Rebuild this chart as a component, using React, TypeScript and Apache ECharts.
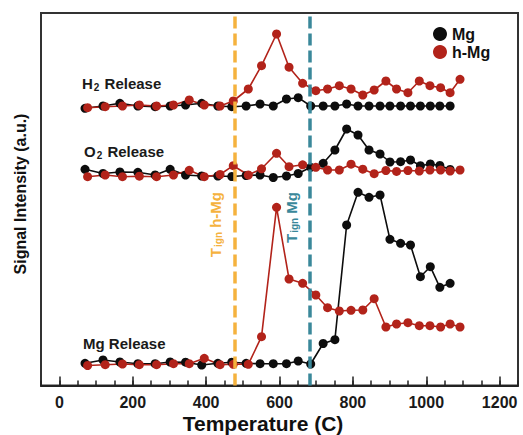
import React, { useEffect, useRef } from "react";
import * as echarts from "echarts";

// Temperatures (°C) at which each sample was measured
const tempMg = [70, 119, 165, 214, 261, 302, 344, 388, 432, 470, 509, 547, 583, 619, 651, 685, 719, 751, 783, 814, 844, 874, 901, 930, 957, 984, 1011, 1037, 1065];
const tempHMg = [77, 125, 172, 218, 265, 311, 354, 395, 438, 474, 515, 551, 592, 626, 663, 699, 731, 763, 795, 827, 858, 890, 919, 950, 981, 1010, 1039, 1065, 1092];

// Raw signals (a.u.), relative to each trace's own baseline
const h2Mg = [-2.3, 0, 2.7, 0, -0.7, 0, 1, 2.7, 0, -0.7, 0, 2, 0, 7, 8.3, 0, 0, 0, 2, 0, 0, 0, 0, 0, 0, 0, 0, 0, 0];
const h2HMg = [-1.7, -0.7, 0, 1, 0, 1, 6, 1, 0, 5, 17, 40.3, 72, 38.8, 22.7, 15.3, 17, 20.3, 17, 11, 16, 25, 17, 13.3, 25, 20.3, 18.3, 13.3, 26.7];
const o2Mg = [6.7, 2.5, 4, 3.7, 1, 6.7, 1, 0, 0, -0.5, 0.5, 1, -1.5, 0, 2.5, 8.7, 12.7, 26, 47, 41, 26, 22, 14, 14.3, 16, 10.3, 12, 10.5, 6.5];
const o2HMg = [-0.7, 1, -0.7, -0.2, -0.7, 1, 5.7, -0.7, 1.5, 10.3, 1, 7.2, 22.7, 9.3, 11.2, 8.7, 6, 6, 11.8, 6.8, 2.3, 5.5, 4.6, 5.5, 5, 6, 6, 5, 6];
const mgMg = [0.7, 4, 2, 0.3, 0.3, 2, 1.8, -1, 0.7, 1.8, 0.7, 0.3, 0.3, 0.3, 3, 0, 20.5, 24.3, 139, 171.7, 166.7, 169, 124.7, 120.7, 119, 87.3, 97.3, 76.7, 80.7];
const mgHMg = [-1.5, -0.7, 0, -0.7, -0.7, 0.3, 0.3, 5.7, -0.7, -0.3, -0.3, 27.3, 156.7, 85, 80.7, 69, 56.3, 53, 53.7, 54, 65.3, 37, 40, 41.3, 38.3, 38.3, 37, 40, 37];

// Vertical offsets of the stacked traces
const offsetH2 = 279.5;
const offsetO2 = 209.5;
const offsetMg = 21.5;

// Ignition temperatures (°C)
const tIgnHMg = 478;
const tIgnMg = 682;

const xTickLabels = [0, 200, 400, 600, 800, 1000, 1200];

const BLACK = "#0d0d0d";
const RED = "#b2231a";
const ORANGE = "#f5b23e";
const TEAL = "#3a889a";
const FONT = "'Liberation Sans', Arial, sans-serif";

function toPairs(t: number[], v: number[], off: number) {
  return t.map((x, i) => [x, v[i] + off]);
}

function lineSeries(name: string, color: string, data: number[][], extra: any = {}) {
  return {
    name,
    type: "line",
    data,
    symbol: "circle",
    symbolSize: 9,
    showSymbol: true,
    lineStyle: { color, width: 1.6 },
    itemStyle: { color },
    emphasis: { disabled: true },
    ...extra,
  };
}

export default function App() {
  const ref = useRef<HTMLDivElement>(null);
  useEffect(() => {
    if (!ref.current) return;
    const chart = echarts.init(ref.current, undefined, { renderer: "svg" });
    const option: any = {
      animation: false,
      backgroundColor: "#ffffff",
      textStyle: { fontFamily: FONT },
      grid: {
        left: 41,
        top: 13,
        width: 477,
        height: 372.5,
        show: true,
        borderColor: "#333333",
        borderWidth: 2,
        containLabel: false,
      },
      legend: {
        data: ["Mg", "h-Mg"],
        orient: "vertical",
        left: 433,
        top: 26,
        itemGap: 2,
        itemWidth: 14,
        itemHeight: 14,
        padding: 0,
        icon: "circle",
        textStyle: { fontFamily: FONT, fontWeight: "bold", fontSize: 16, color: "#111" },
      },
      xAxis: [
        {
          type: "value",
          min: -50,
          max: 1250,
          interval: 50,
          axisLine: { show: true, onZero: false, lineStyle: { color: "#222", width: 2 } },
          axisTick: { show: true, inside: true, length: 5, lineStyle: { color: "#222", width: 1.5 } },
          axisLabel: {
            margin: 9,
            fontFamily: FONT,
            fontWeight: "bold",
            fontSize: 16,
            color: "#1a1a1a",
            formatter: (v: number) => (xTickLabels.indexOf(v) >= 0 ? String(v) : ""),
          },
          splitLine: { show: false },
        },
        {
          type: "value",
          min: -50,
          max: 1250,
          position: "bottom",
          axisLine: { show: false, onZero: false },
          axisTick: { show: true, inside: true, length: 9, customValues: xTickLabels, lineStyle: { color: "#222", width: 1.5 } },
          axisLabel: { show: false },
          splitLine: { show: false },
        },
      ],
      yAxis: {
        type: "value",
        min: 0,
        max: 372.5,
        axisLine: { show: true, onZero: false, lineStyle: { color: "#333", width: 2 } },
        axisTick: { show: false },
        axisLabel: { show: false },
        splitLine: { show: false },
      },
      series: [
        lineSeries("Mg", BLACK, toPairs(tempMg, mgMg, offsetMg), {
          markLine: {
            silent: true,
            symbol: "none",
            label: { show: false },
            data: [
              { xAxis: tIgnHMg, lineStyle: { color: ORANGE, width: 3.5, type: [12, 5] } },
              { xAxis: tIgnMg, lineStyle: { color: TEAL, width: 3.5, type: [12, 5] } },
            ],
          },
        }),
        lineSeries("Mg", BLACK, toPairs(tempMg, o2Mg, offsetO2)),
        lineSeries("Mg", BLACK, toPairs(tempMg, h2Mg, offsetH2)),
        lineSeries("h-Mg", RED, toPairs(tempHMg, mgHMg, offsetMg)),
        lineSeries("h-Mg", RED, toPairs(tempHMg, o2HMg, offsetO2)),
        lineSeries("h-Mg", RED, toPairs(tempHMg, h2HMg, offsetH2)),
      ],
      graphic: [
        {
          type: "text",
          x: 263,
          y: 423,
          style: {
            text: "Temperature (C)",
            align: "center",
            verticalAlign: "middle",
            fontFamily: FONT,
            fontWeight: "bold",
            fontSize: 21,
            fill: "#111",
          },
        },
        {
          type: "text",
          x: 20,
          y: 194,
          rotation: Math.PI / 2,
          style: {
            text: "Signal Intensity (a.u.)",
            align: "center",
            verticalAlign: "middle",
            fontFamily: FONT,
            fontWeight: "bold",
            fontSize: 16,
            fill: "#111",
          },
        },
        {
          type: "text",
          left: 82,
          top: 76,
          style: {
            text: "{b|H}{s|2}{b| Release}",
            rich: {
              b: { fontFamily: FONT, fontWeight: "bold", fontSize: 15, fill: "#1a1a1a" },
              s: { fontFamily: FONT, fontWeight: "bold", fontSize: 10, fill: "#1a1a1a", padding: [8, 1, 0, 1] },
            },
          },
        },
        {
          type: "text",
          left: 84,
          top: 144,
          style: {
            text: "{b|O}{s|2}{b| Release}",
            rich: {
              b: { fontFamily: FONT, fontWeight: "bold", fontSize: 15, fill: "#1a1a1a" },
              s: { fontFamily: FONT, fontWeight: "bold", fontSize: 10, fill: "#1a1a1a", padding: [8, 1, 0, 1] },
            },
          },
        },
        {
          type: "text",
          left: 83,
          top: 336,
          style: {
            text: "Mg Release",
            fontFamily: FONT,
            fontWeight: "bold",
            fontSize: 15,
            fill: "#1a1a1a",
          },
        },
        {
          type: "text",
          x: 215,
          y: 192,
          rotation: Math.PI / 2,
          style: {
            text: "{b|T}{s|ign}{b| h-Mg}",
            align: "right",
            verticalAlign: "middle",
            rich: {
              b: { fontFamily: FONT, fontWeight: "bold", fontSize: 15, fill: ORANGE },
              s: { fontFamily: FONT, fontWeight: "bold", fontSize: 10, fill: ORANGE, padding: [7, 0, 0, 1] },
            },
          },
        },
        {
          type: "text",
          x: 291,
          y: 192,
          rotation: Math.PI / 2,
          style: {
            text: "{b|T}{s|ign}{b| Mg}",
            align: "right",
            verticalAlign: "middle",
            rich: {
              b: { fontFamily: FONT, fontWeight: "bold", fontSize: 15, fill: TEAL },
              s: { fontFamily: FONT, fontWeight: "bold", fontSize: 10, fill: TEAL, padding: [7, 0, 0, 1] },
            },
          },
        },
      ],
    };
    chart.setOption(option);
    return () => chart.dispose();
  }, []);
  return <div ref={ref} style={{ width: 523, height: 435, position: "absolute", left: 0, top: 0 }} />;
}
